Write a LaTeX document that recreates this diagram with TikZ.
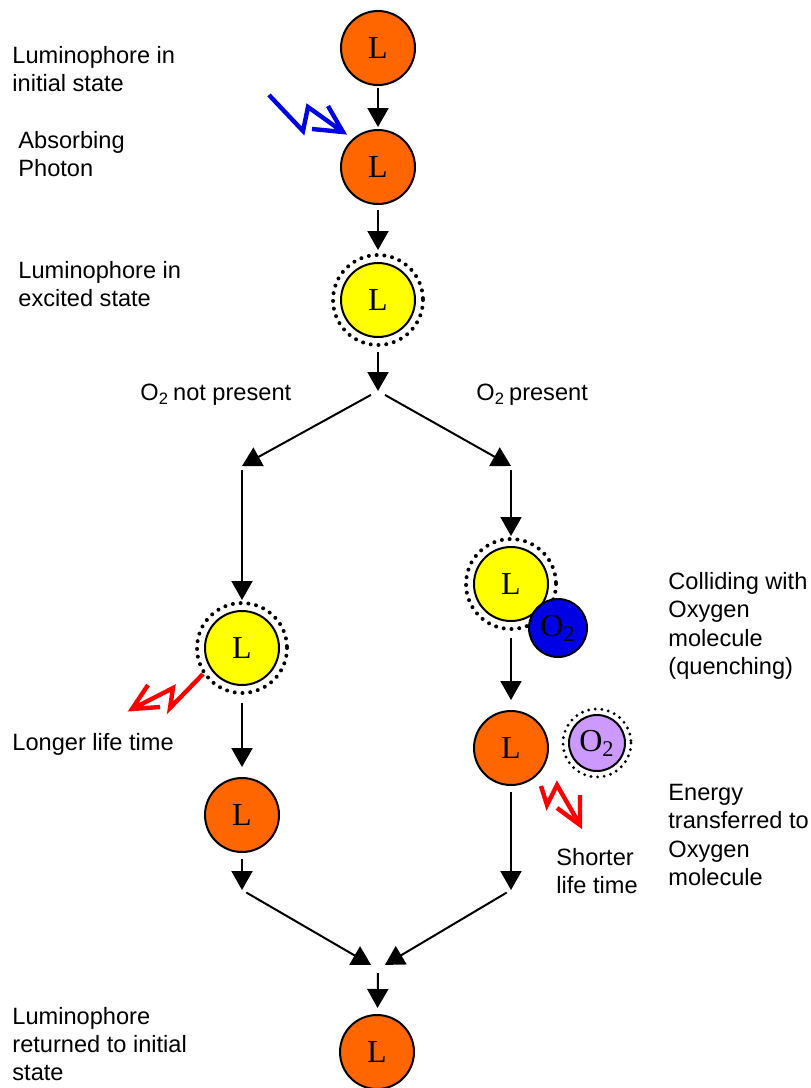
\documentclass[tikz,border=0pt]{standalone}
\usepackage{fontspec}
\setmainfont{Liberation Sans}
\newfontfamily\lumfont{Liberation Serif}
\usetikzlibrary{arrows.meta}
\definecolor{morange}{rgb}{1, 0.4, 0}
\definecolor{myellow}{rgb}{1, 1, 0}
\definecolor{mblue}{rgb}{0, 0, 0.9}
\definecolor{mlilac}{rgb}{0.8, 0.6, 1}
\definecolor{mred}{rgb}{1, 0, 0}
\tikzset{lum/.style = {circle, draw, line width = 1pt, inner sep = 0, minimum size = 37pt, font = \lumfont\fontsize{16}{16}\selectfont}}
\tikzset{oxy/.style = {lum, minimum size = 29pt}}
\tikzset{ring/.style = {line width = 2pt, line cap = round, dash pattern = on 0pt off 3.9pt}}
\tikzset{arr/.style = {line width = 1pt, -{Triangle[length = 9.5pt, width = 10.5pt]}}}
\tikzset{flash/.style = {line width = 2.2pt, line join = miter}}
\tikzset{txt/.style = {anchor = west, align = left, inner sep = 0, font = \fontsize{11.8}{14.2}\selectfont}}

\begin{document}
\begin{tikzpicture}[x = 0.5pt, y = -0.5pt]
        \useasboundingbox (0, 0) rectangle (810, 1088);
        \node [lum, fill = morange] (start) at (378, 48) {L};
        \node [lum, fill = morange] (absorb) at (378, 167) {L};
        \node [lum, fill = myellow] (excited) at (378, 300) {L};
        \draw [ring] (excited) circle [radius = 45];
        \node [lum, fill = myellow] (free) at (242, 648) {L};
        \draw [ring] (free) circle [radius = 45];
        \node [lum, fill = morange] (slow) at (242, 815) {L};
        \node [lum, fill = myellow] (hit) at (511, 584) {L};
        \draw [ring] (hit) circle [radius = 45];
        \node [oxy, fill = mblue] (oxa) at (558, 628) {O\textsubscript{2}};
        \node [lum, fill = morange] (fast) at (511, 748) {L};
        \node [oxy, fill = mlilac, minimum size = 28pt] (oxb) at (597, 743) {O\textsubscript{2}};
        \draw [ring, line width = 1.6pt, dash pattern = on 0pt off 3.3pt] (oxb) circle [radius = 34];
        \node [lum, fill = morange] (final) at (377, 1052) {L};

        \coordinate (split) at (378, 391);
        \coordinate (lsplit) at (242, 466);
        \coordinate (rsplit) at (511, 466);
        \coordinate (ljoin) at (242, 890);
        \coordinate (rjoin) at (511, 890);
        \coordinate (join) at (378, 969);

        \draw [arr, shorten <= 1pt, shorten >= 1pt] (start) -- (absorb);
        \draw [arr, shorten <= 2.5pt, shorten >= 6pt] (absorb) -- (excited);
        \draw [arr, shorten <= 7pt] (excited) -- (split);
        \draw [arr, shorten <= 4pt] (split) -- (lsplit);
        \draw [arr, shorten <= 4pt] (split) -- (rsplit);
        \draw [arr, shorten <= 2pt, shorten >= 5pt] (lsplit) -- (free);
        \draw [arr, shorten <= 8.5pt, shorten >= 5pt] (free) -- (slow);
        \draw [arr, shorten <= 3pt] (slow) -- (ljoin);
        \draw [arr, shorten <= 2.5pt, shorten >= 4pt] (ljoin) -- (join);
        \draw [arr, shorten <= 2pt, shorten >= 5pt] (rsplit) -- (hit);
        \draw [arr, shorten <= 8pt, shorten >= 5pt] (hit) -- (fast);
        \draw [arr, shorten <= 3pt] (fast) -- (rjoin);
        \draw [arr, shorten <= 2.5pt, shorten >= 4pt] (rjoin) -- (join);
        \draw [arr, shorten <= 2pt, shorten >= 3pt] (join) -- (final);

        \draw [flash, mblue] (269, 95) -- (303, 131) -- (308, 107) -- (343, 132)
          (328, 106) -- (343, 132) -- (312, 129);
        \draw [flash, mred] (203, 674) -- (170, 708) -- (173, 688) -- (132, 709)
          (148, 685) -- (132, 709) -- (160, 707);
        \draw [flash, mred] (541, 786) -- (547, 805) -- (557, 785) -- (580, 825)
          (580, 795) -- (580, 825) -- (557, 808);

        \node [txt] (initial) at (12, 69) {Luminophore in\\initial state};
        \node [txt] (photon) at (18, 154) {Absorbing\\Photon};
        \node [txt] (state) at (18, 284) {Luminophore in\\excited state};
        \node [txt] (without) at (140, 395) {O\textsubscript{2}\kern-0.1em\ not present};
        \node [txt] (with) at (476, 395) {O\textsubscript{2}\kern-0.1em\ present};
        \node [txt] (longer) at (12, 744) {Longer life time};
        \node [txt] (colliding) at (668, 626) {Colliding with\\Oxygen\\molecule\\(quenching)};
        \node [txt] (energy) at (668, 835) {Energy\\transferred to\\Oxygen\\molecule};
        \node [txt] (shorter) at (556, 871) {Shorter\\life time};
        \node [txt] (returned) at (12, 1044) {Luminophore\\returned to initial\\state};
      \end{tikzpicture}
\end{document}
